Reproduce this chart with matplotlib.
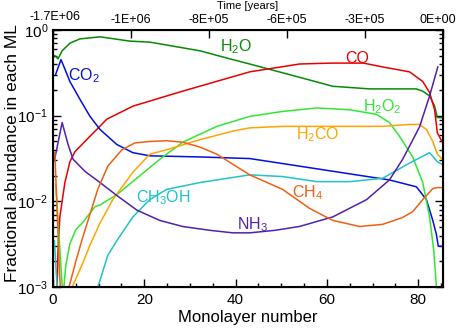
import numpy as np
import matplotlib
matplotlib.use("Agg")
import matplotlib.pyplot as plt
import matplotlib.transforms as mtransforms

plt.rcParams['font.family'] = ['Liberation Sans', 'DejaVu Sans']
plt.rcParams['mathtext.fontset'] = 'custom'
plt.rcParams['mathtext.rm'] = 'Liberation Sans'
plt.rcParams['mathtext.it'] = 'Liberation Sans:italic'
plt.rcParams['mathtext.bf'] = 'Liberation Sans:bold'

# fractional abundance per monolayer, one pair of arrays per species
h2o_x = [0.4, 1.1, 2.0, 3.7, 5.9, 10.3, 16.8, 21.2, 32.2, 38.7, 43.1, 54.0, 61.3,
         69.4, 75.9, 79.6, 81.0, 82.5, 83.6, 84.2, 85.3]
h2o_y = [0.50, 0.46, 0.57, 0.70, 0.785, 0.83, 0.74, 0.72, 0.57, 0.46, 0.40, 0.28,
         0.22, 0.205, 0.205, 0.205, 0.193, 0.17, 0.129, 0.095, 0.095]

co_x = [0.3, 0.9, 1.1, 1.5, 2.6, 3.7, 4.8, 8.1, 11.8, 17.5, 28.4, 43.1, 54.0, 61.0,
        68.0, 72.2, 78.1, 81.0, 82.5, 83.6, 84.2, 85.3]
co_y = [3.2e-4, 1.1e-3, 2.7e-3, 6.6e-3, 0.0166, 0.029, 0.038, 0.0575, 0.091, 0.129,
        0.193, 0.324, 0.40, 0.41, 0.41, 0.37, 0.324, 0.25, 0.186, 0.117, 0.063, 0.049]

co2_x = [0.6, 1.75, 2.6, 3.7, 5.9, 8.1, 10.3, 14.0, 17.5, 21.2, 32.2, 43.1, 57.8,
         73.7, 79.6, 81.8, 83.2, 84.0, 84.4, 85.3]
co2_y = [0.305, 0.45, 0.35, 0.25, 0.155, 0.098, 0.069, 0.046, 0.037, 0.034, 0.033,
         0.0316, 0.024, 0.0178, 0.0148, 0.0105, 0.006, 0.0041, 0.003, 0.003]

h2o2_x = [0.6, 1.3, 2.0, 2.3, 2.8, 3.7, 5.0, 6.6, 9.2, 10.3, 14.0, 17.9, 23.4, 28.4,
          35.9, 43.1, 50.3, 57.8, 65.0, 70.9, 73.7, 75.9, 78.8, 81.0, 82.5, 83.4,
          84.0, 84.6]
h2o2_y = [0.0158, 4.1e-3, 1.05e-3, 8.9e-4, 1.8e-3, 3.2e-3, 4.7e-3, 5.75e-3, 8.7e-3,
          9.1e-3, 0.012, 0.0178, 0.031, 0.049, 0.075, 0.098, 0.112, 0.123, 0.117,
          0.1035, 0.083, 0.0575, 0.033, 0.0166, 6.6e-3, 2.7e-3, 1.0e-3, 3.2e-4]

h2co_x = [0.4, 3.0, 4.2, 6.6, 8.1, 10.3, 13.1, 17.5, 21.2, 24.9, 32.2, 39.4, 43.1,
          50.3, 65.0, 72.2, 78.1, 80.3, 81.8, 83.2, 84.2, 85.3]
h2co_y = [2e-4, 5e-4, 1.0e-3, 1.95e-3, 3.1e-3, 5.6e-3, 0.0105, 0.0219, 0.0355, 0.040,
          0.0525, 0.066, 0.072, 0.075, 0.075, 0.075, 0.079, 0.079, 0.069, 0.050,
          0.0355, 0.031]

ch3oh_x = [0.3, 0.9, 1.3, 9.0, 9.8, 10.3, 12.0, 14.0, 17.5, 21.2, 24.9, 32.2, 43.1,
           50.3, 57.8, 65.0, 72.2, 78.1, 82.5, 84.2, 85.3]
ch3oh_y = [3.5e-3, 1.0e-3, 2.5e-4, 2.5e-4, 1.0e-3, 1.2e-3, 2.35e-3, 3.5e-3, 6.6e-3,
           0.0105, 0.0138, 0.0166, 0.0204, 0.0195, 0.017, 0.017, 0.0186, 0.028, 0.037,
           0.029, 0.027]

nh3_x = [0.3, 2.0, 3.3, 4.4, 7.0, 10.3, 14.0, 18.4, 23.4, 28.4, 34.4, 39.4, 43.1, 48.6,
         54.0, 61.3, 68.7, 73.7, 76.6, 80.3, 82.5, 84.3]
nh3_y = [0.03, 0.083, 0.046, 0.031, 0.0224, 0.0166, 0.0117, 0.0079, 0.006, 0.0051,
         0.0046, 0.0043, 0.0043, 0.0046, 0.0051, 0.0066, 0.0105, 0.0178, 0.031, 0.074,
         0.17, 0.37]

ch4_x = [0.4, 0.9, 1.4, 2.0, 2.8, 3.5, 5.0, 6.3, 8.1, 9.8, 12.0, 15.1, 17.9, 21.2, 24.9,
         28.4, 32.2, 35.9, 43.1, 50.3, 56.2, 61.3, 67.2, 72.2, 76.6, 78.8, 81.0, 83.2,
         84.2, 85.3]
ch4_y = [0.037, 7.9e-3, 1.6e-3, 4.0e-4, 4.0e-4, 1.0e-3, 2.0e-3, 3.5e-3, 7.1e-3, 0.0138,
         0.0257, 0.040, 0.048, 0.050, 0.051, 0.049, 0.043, 0.0355, 0.0204, 0.0138,
         0.0083, 0.006, 0.0051, 0.0054, 0.0065, 0.0076, 0.0105, 0.0141, 0.0145, 0.0145]

time_labels = ['-1.7E+06', '-1E+06', '-8E+05', '-6E+05', '-3E+05', '0E+00']

x_max = 85.4

species = [
    (h2o_x, h2o_y, '#058a05', 'H$_2$O', 40.0, 0.63),
    (co_x, co_y, '#e80000', 'CO', 66.7, 0.46),
    (co2_x, co2_y, '#0010e0', 'CO$_2$', 6.8, 0.29),
    (h2o2_x, h2o2_y, '#33e633', 'H$_2$O$_2$', 72.2, 0.126),
    (h2co_x, h2co_y, '#ffa500', 'H$_2$CO', 58.0, 0.060),
    (ch3oh_x, ch3oh_y, '#1ec4c8', 'CH$_3$OH', 24.1, 0.0112),
    (nh3_x, nh3_y, '#5020b0', 'NH$_3$', 43.8, 0.0054),
    (ch4_x, ch4_y, '#f06010', 'CH$_4$', 55.8, 0.0126),
]

fig = plt.figure(figsize=(4.57, 3.32), dpi=100)
ax = fig.add_axes([0.116, 0.135, 0.853, 0.775])

for xs, ys, color, name, lx, ly in species:
    ax.plot(xs, ys, color=color, lw=1.1)
    ax.text(lx, ly, name, color=color, fontsize=11.5, ha='center', va='center')

ax.set_yscale('log')
ax.set_ylim(1e-3, 1)
ax.set_xlim(0, x_max)
ax.set_xticks([0, 20, 40, 60, 80])
ax.set_xticks(np.arange(0, 86, 5), minor=True)
ax.tick_params(which='both', direction='in', top=False, right=True, labelsize=11)
ax.tick_params(which='major', length=6, width=1)
ax.tick_params(which='minor', length=3, width=1)
ax.tick_params(axis='x', pad=4)
ax.set_xlabel('Monolayer number', fontsize=12, labelpad=2)
ax.set_ylabel('Fractional abundance in each ML', fontsize=12.5)
ax.yaxis.set_label_coords(-0.085, 0.52)
for s in ax.spines.values():
    s.set_linewidth(1.5)

# time axis on top
top = ax.twiny()
top.set_xlim(ax.get_xlim())
top.set_xticks(np.linspace(0, x_max, 6))
top.set_xticklabels(time_labels)
top.tick_params(direction='in', length=6, width=1, labelsize=9, pad=3)
top.set_xlabel('Time [years]', fontsize=8, labelpad=1)
# nudge the end labels: first one clear of the 10^0 label, last one inside the figure
labels = top.get_xticklabels()
labels[0].set_transform(labels[0].get_transform() +
                        mtransforms.ScaledTranslation(2 / 100, 3 / 100, fig.dpi_scale_trans))
labels[-1].set_transform(labels[-1].get_transform() +
                         mtransforms.ScaledTranslation(-5 / 100, 0, fig.dpi_scale_trans))

fig.savefig('out.png', dpi=100)
